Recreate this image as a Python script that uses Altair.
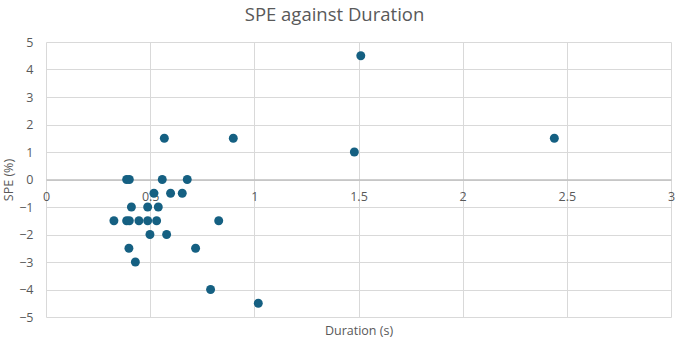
import altair as alt
import pandas as pd

duration = [0.568, 0.899, 0.387, 0.40, 0.558, 0.678, 0.518, 0.598, 0.654,
            0.41, 0.488, 0.539, 0.326, 0.387, 0.40, 0.446, 0.488, 0.531,
            0.829, 0.499, 0.579, 0.398, 0.718, 0.429, 0.79, 1.019,
            1.511, 1.48, 2.44]
spe = [1.5, 1.5, 0, 0, 0, 0, -0.5, -0.5, -0.5,
       -1, -1, -1, -1.5, -1.5, -1.5, -1.5, -1.5, -1.5,
       -1.5, -2, -2, -2.5, -2.5, -3, -4, -4.5,
       4.5, 1.0, 1.5]

x_ticks = [0, 0.5, 1, 1.5, 2, 2.5, 3]
y_ticks = [-5, -4, -3, -2, -1, 0, 1, 2, 3, 4, 5]

df = pd.DataFrame({"Duration": duration, "SPE": spe})

FONT = "Open Sans"
TXT = "#595959"

chart = alt.Chart(df).mark_circle(size=80, color="#156082", opacity=1).encode(
    x=alt.X("Duration:Q",
            scale=alt.Scale(domain=[0, 3], nice=False, zero=False),
            axis=alt.Axis(values=x_ticks, format="~g", title="Duration (s)",
                          offset=-137.5, labelPadding=11, ticks=False,
                          domainColor="#bfbfbf", domainWidth=1.5,
                          gridColor="#d9d9d9", gridWidth=1,
                          labelFlush=False, labelColor=TXT, labelFont=FONT,
                          labelFontSize=12.5, titleColor=TXT, titleFont=FONT,
                          titleFontSize=12.5, titleFontWeight="normal",
                          titleY=151, titleBaseline="middle")),
    y=alt.Y("SPE:Q",
            scale=alt.Scale(domain=[-5, 5], nice=False, zero=False),
            axis=alt.Axis(values=y_ticks, format="~g", title="SPE (%)",
                          domain=False, ticks=False, labelPadding=13,
                          gridColor="#d9d9d9", gridWidth=1, labelColor=TXT,
                          labelFont=FONT, labelFontSize=12.5, titleColor=TXT,
                          titleFont=FONT, titleFontSize=12.5,
                          titleFontWeight="normal",
                          titleX=-38, titleY=137.5, titleAngle=-90,
                          titleAlign="center", titleBaseline="middle")),
).properties(
    width=625, height=275,
    autosize=alt.AutoSizeParams(type="none"),
    padding={"left": 46, "top": 42, "right": 5, "bottom": 23},
    title=alt.TitleParams("SPE against Duration", font=FONT, fontSize=18.5,
                          color=TXT, fontWeight="normal", anchor="middle",
                          offset=12, dx=-24),
).configure_view(strokeOpacity=0)

chart.save("out.html", embed_options={"renderer": "svg", "actions": False})
